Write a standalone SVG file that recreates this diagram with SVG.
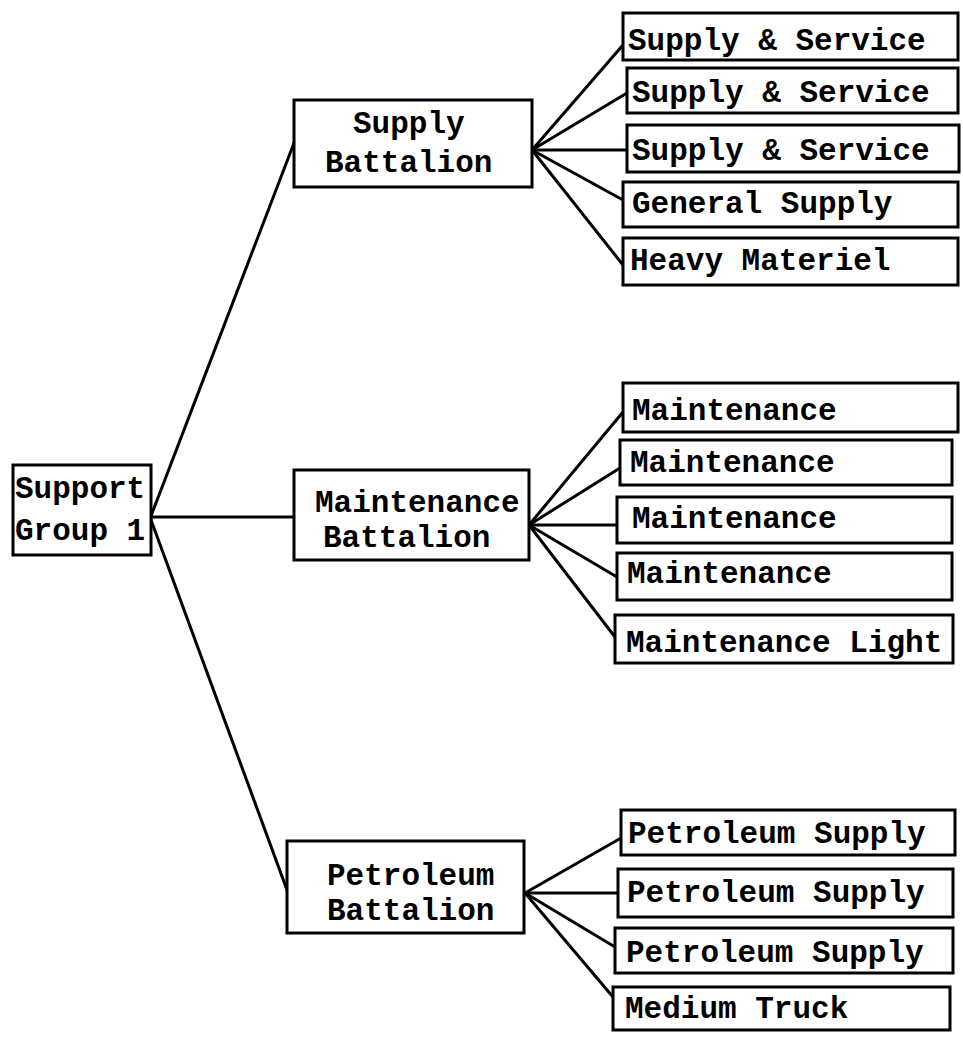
<svg xmlns="http://www.w3.org/2000/svg" width="963" height="1041" viewBox="0 0 963 1041">
  <style>
    .box { fill: #fff; stroke: #000; stroke-width: 3; }
    .lbl { font-family: "Liberation Mono", "Courier New", monospace; font-size: 31px; font-weight: bold; fill: #000; }
    .edge { stroke: #000; stroke-width: 3; fill: none; stroke-linecap: round; }
  </style>
  <rect width="963" height="1041" fill="#fff"/>

  <!-- connectors -->
  <g id="connectors">
    <!-- root to battalions -->
    <line class="edge" x1="151" y1="516" x2="294" y2="143"/>
    <line class="edge" x1="151" y1="517" x2="294" y2="517"/>
    <line class="edge" x1="151" y1="520" x2="287" y2="890"/>
    <!-- supply battalion to companies -->
    <line class="edge" x1="532" y1="150" x2="623" y2="45"/>
    <line class="edge" x1="532" y1="150" x2="627" y2="93"/>
    <line class="edge" x1="532" y1="150" x2="627" y2="150"/>
    <line class="edge" x1="532" y1="150" x2="623" y2="200"/>
    <line class="edge" x1="532" y1="150" x2="623" y2="265"/>
    <!-- maintenance battalion to companies -->
    <line class="edge" x1="529" y1="525" x2="623" y2="412"/>
    <line class="edge" x1="529" y1="525" x2="620" y2="468"/>
    <line class="edge" x1="529" y1="525" x2="617" y2="525"/>
    <line class="edge" x1="529" y1="525" x2="617" y2="577"/>
    <line class="edge" x1="529" y1="525" x2="615" y2="637"/>
    <!-- petroleum battalion to companies -->
    <line class="edge" x1="525" y1="893" x2="621" y2="838"/>
    <line class="edge" x1="525" y1="893" x2="618" y2="893"/>
    <line class="edge" x1="525" y1="893" x2="615" y2="947"/>
    <line class="edge" x1="525" y1="893" x2="613" y2="997"/>
  </g>

  <!-- root -->
  <g id="support-group-1">
    <rect class="box" x="13" y="465" width="138" height="90"/>
    <text class="lbl" x="15" y="498">Support</text>
    <text class="lbl" x="15" y="540">Group 1</text>
  </g>

  <!-- battalions -->
  <g id="supply-battalion">
    <rect class="box" x="294" y="100" width="238" height="87"/>
    <text class="lbl" x="353" y="133">Supply</text>
    <text class="lbl" x="325" y="172">Battalion</text>
  </g>
  <g id="maintenance-battalion">
    <rect class="box" x="294" y="470" width="235" height="90"/>
    <text class="lbl" x="315" y="512">Maintenance</text>
    <text class="lbl" x="323" y="547">Battalion</text>
  </g>
  <g id="petroleum-battalion">
    <rect class="box" x="287" y="841" width="237" height="92"/>
    <text class="lbl" x="327" y="885">Petroleum</text>
    <text class="lbl" x="327" y="920">Battalion</text>
  </g>

  <!-- supply companies -->
  <g id="supply-service-1">
    <rect class="box" x="623" y="13" width="335" height="47"/>
    <text class="lbl" x="628" y="50">Supply &amp; Service</text>
  </g>
  <g id="supply-service-2">
    <rect class="box" x="627" y="68" width="331" height="45"/>
    <text class="lbl" x="632" y="102">Supply &amp; Service</text>
  </g>
  <g id="supply-service-3">
    <rect class="box" x="627" y="125" width="332" height="47"/>
    <text class="lbl" x="632" y="160">Supply &amp; Service</text>
  </g>
  <g id="general-supply">
    <rect class="box" x="623" y="182" width="335" height="45"/>
    <text class="lbl" x="632" y="213">General Supply</text>
  </g>
  <g id="heavy-materiel">
    <rect class="box" x="623" y="238" width="335" height="47"/>
    <text class="lbl" x="630" y="270">Heavy Materiel</text>
  </g>

  <!-- maintenance companies -->
  <g id="maintenance-1">
    <rect class="box" x="623" y="383" width="335" height="49"/>
    <text class="lbl" x="632" y="420">Maintenance</text>
  </g>
  <g id="maintenance-2">
    <rect class="box" x="620" y="440" width="332" height="45"/>
    <text class="lbl" x="630" y="472">Maintenance</text>
  </g>
  <g id="maintenance-3">
    <rect class="box" x="617" y="497" width="335" height="46"/>
    <text class="lbl" x="632" y="528">Maintenance</text>
  </g>
  <g id="maintenance-4">
    <rect class="box" x="617" y="553" width="335" height="47"/>
    <text class="lbl" x="627" y="583">Maintenance</text>
  </g>
  <g id="maintenance-light">
    <rect class="box" x="615" y="615" width="338" height="48"/>
    <text class="lbl" x="626" y="652">Maintenance Light</text>
  </g>

  <!-- petroleum companies -->
  <g id="petroleum-supply-1">
    <rect class="box" x="621" y="810" width="334" height="45"/>
    <text class="lbl" x="628" y="843">Petroleum Supply</text>
  </g>
  <g id="petroleum-supply-2">
    <rect class="box" x="618" y="869" width="335" height="48"/>
    <text class="lbl" x="627" y="902">Petroleum Supply</text>
  </g>
  <g id="petroleum-supply-3">
    <rect class="box" x="615" y="928" width="338" height="45"/>
    <text class="lbl" x="626" y="962">Petroleum Supply</text>
  </g>
  <g id="medium-truck">
    <rect class="box" x="613" y="987" width="337" height="43"/>
    <text class="lbl" x="625" y="1018">Medium Truck</text>
  </g>
</svg>
